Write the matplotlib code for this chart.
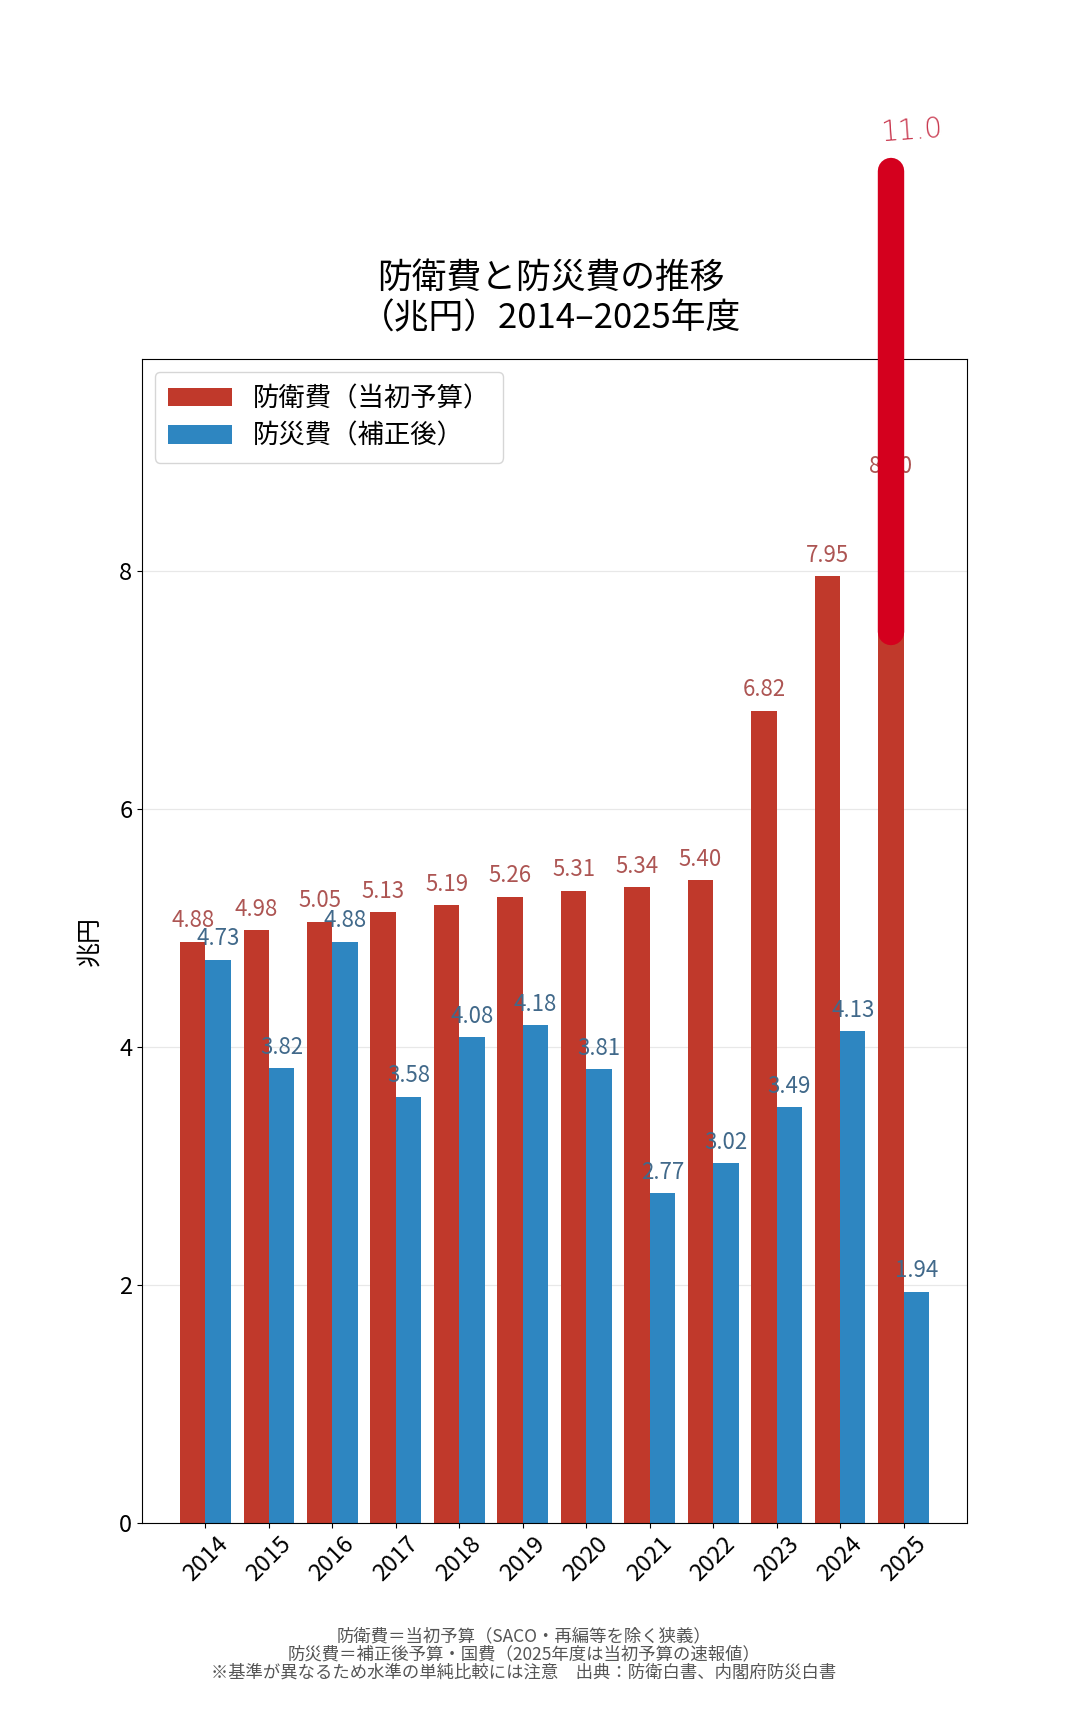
import matplotlib
matplotlib.use("Agg")
import matplotlib.pyplot as plt
import numpy as np

plt.rcParams['font.family'] = ['Noto Sans CJK JP', 'DejaVu Sans']

# data (兆円)
years = ['2014', '2015', '2016', '2017', '2018', '2019',
         '2020', '2021', '2022', '2023', '2024', '2025']
defense = [4.88, 4.98, 5.05, 5.13, 5.19, 5.26, 5.31, 5.34, 5.40, 6.82, 7.95, 8.70]
disaster = [4.73, 3.82, 4.88, 3.58, 4.08, 4.18, 3.81, 2.77, 3.02, 3.49, 4.13, 1.94]
legend_labels = ['防衛費（当初予算）', '防災費（補正後）']
title = '防衛費と防災費の推移\n（兆円）2014–2025年度'
notes = ['防衛費＝当初予算（SACO・再編等を除く狭義）',
         '防災費＝補正後予算・国費（2025年度は当初予算の速報値）',
         '※基準が異なるため水準の単純比較には注意　出典：防衛白書、内閣府防災白書']
# hand-drawn correction on the 2025 bar
scribble_from = 7.48
scribble_to = 11.36
scribble_text = '11.0'

RED = '#c0392b'
BLUE = '#2e86c1'

fig = plt.figure(figsize=(10.8, 17.11), dpi=100)
ax = fig.add_axes([0.1315, 0.1099, 0.7639, 0.6805])

x = np.arange(len(years))
w = 0.4
ax.bar(x - w/2, defense, w, color=RED, label=legend_labels[0], zorder=2)
ax.bar(x + w/2, disaster, w, color=BLUE, label=legend_labels[1], zorder=2)

for xi, v in zip(x, defense):
    ax.text(xi - w/2, v + 0.08, f'{v:.2f}', ha='center', va='bottom',
            fontsize=16, color='#ad5553', zorder=3)
for xi, v in zip(x, disaster):
    ax.text(xi + w/2, v + 0.08, f'{v:.2f}', ha='center', va='bottom',
            fontsize=16, color='#41698a', zorder=3)

ax.set_xlim(-1, 12)
ax.set_ylim(0, 9.78)
ax.set_yticks([0, 2, 4, 6, 8])
ax.set_xticks(x)
ax.set_xticklabels(years, rotation=45)
ax.tick_params(labelsize=17)
ax.set_ylabel('兆円', fontsize=18, labelpad=12)
ax.yaxis.grid(True, color='#e8e8e8', linewidth=0.9)
ax.set_axisbelow(True)

ax.set_title(title, fontsize=25, pad=22, x=0.495)
ax.legend(loc='upper left', fontsize=19, handlelength=2.4, borderpad=0.5,
          labelspacing=0.4, edgecolor='#cccccc', fancybox=True)

for i, line in enumerate(notes):
    fig.text(0.485, 1 - (1636 + 18.5 * i) / 1711, line, ha='center', va='center',
             fontsize=12.5, color='#555555')

# red marker line scribbled over the chart
ax.plot([x[-1] - w/2, x[-1] - w/2], [scribble_from, scribble_to], color='#d4001e',
        linewidth=19, solid_capstyle='round', clip_on=False, zorder=5)
ax.text(x[-1] - w/2 + 0.33, scribble_to + 0.33, scribble_text, ha='center', va='center',
        fontsize=20, color='#c8354c', family='DejaVu Sans', fontweight='light',
        rotation=4, clip_on=False, zorder=5)

fig.savefig('out.png', dpi=100)
